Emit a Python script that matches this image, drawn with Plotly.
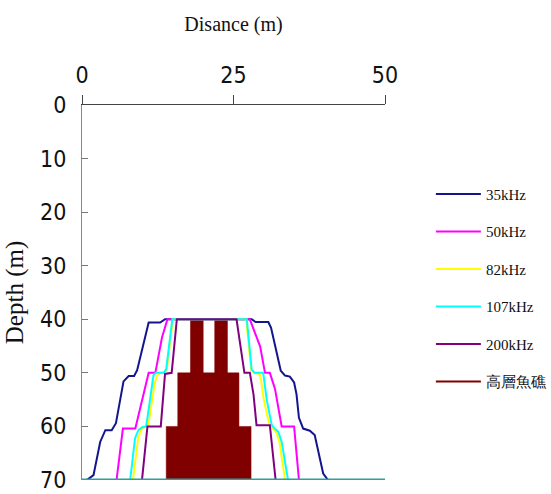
import plotly.graph_objects as go

# Beam envelope of each echo-sounder frequency around the reef (distance m, depth m)
freq_names = ["35kHz", "50kHz", "82kHz", "107kHz", "200kHz"]
freq_colors = ["#14148c", "#ff00ff", "#ffff00", "#00ffff", "#800080"]

x_35k = [0.8, 1.9, 3.0, 3.85, 4.9, 5.6, 6.85, 7.7, 8.6, 9.1, 11.0, 12.9, 13.7,
         28.0, 28.65, 30.75, 31.2, 32.8, 33.5, 34.3, 35.0, 35.4, 35.8, 36.5, 37.6, 38.4, 39.8, 40.6]
y_35k = [70, 69.1, 62.9, 60.7, 60.7, 59.4, 51.6, 50.6, 50.6, 49.5, 40.6, 40.6, 40,
         40, 40.5, 40.5, 41.6, 49.6, 50.5, 50.7, 51.8, 54.0, 58.4, 60.4, 60.8, 61.6, 68.8, 70]

x_50k = [5.7, 6.75, 8.8, 11.0, 12.1, 13.2, 14.1,
         27.7, 29.4, 30.1, 30.2, 31.0, 31.85, 32.95, 35.0, 35.8]
y_50k = [70, 60.4, 60.4, 50.0, 50.0, 43.4, 40,
         40, 45.1, 49.7, 50.0, 50.0, 53.0, 60.0, 60.0, 70]

x_82k = [8.4, 9.3, 9.8, 10.4, 10.9, 12.0, 12.4, 12.9, 13.6, 14.0, 15.0,
         27.1, 27.9, 28.4, 29.3, 29.5, 30.0, 30.9, 31.5, 32.1, 32.6, 33.5]
y_82k = [70, 62.0, 60.6, 60.0, 60.0, 52.0, 50.5, 50.0, 50.0, 49.3, 40,
         40, 49.4, 50.0, 50.2, 51.0, 55.0, 59.6, 60.4, 61.2, 63.0, 70]

x_107k = [7.95, 8.75, 9.3, 10.0, 10.6, 11.8, 12.2, 13.5, 13.9, 14.9,
          27.2, 28.0, 28.5, 29.9, 30.5, 31.3, 31.8, 32.4, 32.95, 34.0]
y_107k = [70, 62.2, 60.7, 60.1, 60.0, 50.4, 50.0, 50.0, 49.3, 40,
          40, 49.4, 50.0, 50.0, 55.1, 59.7, 60.4, 61.0, 62.9, 70]

x_200k = [9.9, 10.8, 13.0, 13.7, 14.8, 15.65,
          25.5, 26.8, 27.7, 28.3, 28.8, 31.0, 31.95]
y_200k = [70, 60.0, 60.0, 50.2, 50.0, 40,
          40, 50.0, 50.0, 54.0, 59.8, 59.8, 70]

freq_x = [x_35k, x_50k, x_82k, x_107k, x_200k]
freq_y = [y_35k, y_50k, y_82k, y_107k, y_200k]

# High-rise reef: stacked blocks (top depth, bottom depth, left x, right x)
reef_name = "高層魚礁"
reef_color = "#800000"
reef_top = [60, 50, 40, 40]
reef_bottom = [70, 60, 50, 50]
reef_left = [13.9, 15.8, 17.9, 21.9]
reef_right = [27.9, 25.9, 20.0, 24.0]

seabed_depth = 70
x_ticks = [0, 25, 50]
y_ticks = [0, 10, 20, 30, 40, 50, 60, 70]

tick_font = dict(family="DejaVu Sans Condensed, sans-serif", size=23, color="#111111")
serif = "Liberation Serif, Times New Roman, serif"

fig = go.Figure()

# reef outline as closed rectangles separated by gaps
rx, ry = [], []
for t, b, l, r in zip(reef_top, reef_bottom, reef_left, reef_right):
    rx += [l, r, r, l, l, None]
    ry += [b, b, t, t, b, None]
fig.add_trace(go.Scatter(x=rx, y=ry, mode="lines", fill="toself",
                         fillcolor=reef_color, line=dict(color=reef_color, width=0.5),
                         showlegend=False, hoverinfo="skip", legendgroup="reef"))

for i, (name, color, xs, ys) in enumerate(zip(freq_names, freq_colors, freq_x, freq_y)):
    fig.add_trace(go.Scatter(x=xs, y=ys, mode="lines", name=name,
                             line=dict(color=color, width=2),
                             legendgroup=name, legendrank=i + 1))

# legend entry for the reef, drawn as a line swatch
fig.add_trace(go.Scatter(x=[None], y=[None], mode="lines", name=reef_name,
                         line=dict(color=reef_color, width=2),
                         legendgroup="reef", legendrank=10))

# seabed line
fig.add_shape(type="line", xref="x domain", yref="y", x0=0, x1=1,
              y0=seabed_depth, y1=seabed_depth,
              line=dict(color="#2e9e9e", width=3), layer="above")

fig.update_layout(
    width=551, height=494,
    margin=dict(l=82, r=166, t=105, b=14, autoexpand=False),
    paper_bgcolor="white", plot_bgcolor="white",
    showlegend=True,
    legend=dict(xref="container", yref="container", x=0.782, xanchor="left",
                y=0.640, yanchor="top",
                font=dict(family=serif, size=15, color="#111111"),
                tracegroupgap=15, itemwidth=45, bgcolor="rgba(0,0,0,0)"),
    xaxis=dict(side="top", range=[0, 50], tickvals=x_ticks, ticks="outside",
               ticklen=9, tickcolor="#444", showline=True, linecolor="#444",
               linewidth=1, showgrid=False, zeroline=False, tickfont=tick_font,
               ticklabelstandoff=3, automargin=False,
               title=dict(text="Disance (m)", font=dict(family=serif, size=20, color="#111111"),
                          standoff=24)),
    yaxis=dict(range=[70, 0], tickvals=y_ticks, ticks="inside", ticklen=6,
               tickcolor="#777", showline=True, linecolor="#888", linewidth=1,
               showgrid=False, zeroline=False, tickfont=tick_font,
               ticklabelstandoff=10, automargin=False,
               title=dict(text="Depth (m)", font=dict(family=serif, size=25, color="#111111"),
                          standoff=9)),
)

fig.write_html("out.html")
